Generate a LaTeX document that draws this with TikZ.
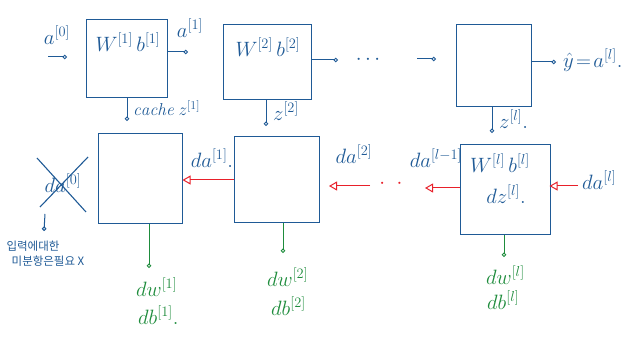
\documentclass[tikz,border=0pt]{standalone}
\usepackage{fontspec}
\newfontfamily\kr{Noto Sans CJK KR}
\usetikzlibrary{arrows.meta}
\definecolor{pen}{HTML}{1F5A96}
\definecolor{gpen}{HTML}{1E8C3C}
\definecolor{rpen}{HTML}{E8202A}
\begin{document}
\begin{tikzpicture}[x=1pt,y=-1pt,
  layer/.style={draw=pen,line width=1pt,minimum width=#1,inner sep=0pt},
  lolli/.style={draw=pen,line width=1pt,-{Circle[open,length=4.5pt,line width=1pt]}},
  glolli/.style={draw=gpen,line width=1pt,-{Circle[open,length=4.5pt,line width=1pt]}},
  back/.style={draw=rpen,line width=1pt,-{Triangle[open,length=8pt,width=9pt,line width=1pt]}},
  lab/.style={text=pen,font=\huge,inner sep=0pt},
  glab/.style={text=gpen,font=\huge,inner sep=0pt}]
\useasboundingbox (0,0) rectangle (641,342);
% ---------- forward row ----------
\node[layer=81pt,minimum height=78pt] (b1) at (127,59) {};
\node[layer=88pt,minimum height=75pt] (b2) at (267,62) {};
\node[layer=75pt,minimum height=82pt] (b3) at (494,66) {};
\node[lab] (w1) at (128,42) {$W^{[1]}\,b^{[1]}$};
\node[lab] (w2) at (268,47) {$W^{[2]}\,b^{[2]}$};
\node[lab] (a0) at (57,35) {$a^{[0]}$};
\coordinate (i0) at (48,57);
\coordinate (i1) at (67,57);
\draw[lolli] (i0) -- (i1);
\coordinate (o1) at (188,52);
\draw[lolli] (b1.east |- o1) -- (o1);
\node[lab] (a1) at (190,28) {$a^{[1]}$};
\coordinate (c1) at (127,121);
\draw[lolli] (b1.south -| c1) -- (c1);
\node[lab,font=\LARGE,anchor=west] (cz1) at (133,108) {$\mathit{cache}\;z^{[1]}$};
\coordinate (c2) at (266,126);
\draw[lolli] (b2.south -| c2) -- (c2);
\node[lab,anchor=west] (z2) at (273,111) {$z^{[2]}$};
\coordinate (o2) at (338,60);
\draw[lolli] (b2.east |- o2) -- (o2);
\node[lab] (dots1) at (368,60) {$\cdots$};
\coordinate (p0) at (417,59);
\coordinate (p1) at (436,59);
\draw[lolli] (p0) -- (p1);
\coordinate (o3) at (556,62);
\draw[lolli] (b3.east |- o3) -- (o3);
\node[lab,anchor=west] (yhat) at (563,60) {$\hat{y}\!=\!a^{[l]}.$};
\coordinate (c3) at (492,133);
\draw[lolli] (b3.south -| c3) -- (c3);
\node[lab,anchor=west] (z3) at (499,119) {$z^{[l]}.$};
% ---------- backward row ----------
\node[layer=84pt,minimum height=90pt] (b4) at (140,179) {};
\node[layer=85pt,minimum height=86pt] (b5) at (277,180) {};
\node[layer=90pt,minimum height=90pt] (b6) at (505,190) {};
\node[lab] (w6) at (500,163) {$W^{[l]}\,b^{[l]}$};
\node[lab] (dz6) at (506,194) {$dz^{[l]}.$};
% crossed da[0]
\node[lab] (da0) at (63,183) {$da^{[0]}$};
\coordinate (x1) at (37,158);
\coordinate (x2) at (86,212);
\coordinate (x3) at (40,207);
\coordinate (x4) at (88,157);
\draw[pen,line width=1.1pt] (x1) -- (x2);
\draw[pen,line width=1.1pt] (x3) -- (x4);
\coordinate (k0) at (45,214);
\coordinate (k1) at (44,231);
\draw[lolli] (k0) -- (k1);
\node[text=pen,font=\kr\fontsize{11.5}{13}\selectfont,inner sep=0pt] (kr1) at (33,246) {입력에대한};
\node[text=pen,font=\kr\fontsize{11.5}{13}\selectfont,inner sep=0pt] (kr2) at (48,261) {미분항은필요 X};
% red backward arrows
\draw[back] (b5.west |- 0,180) -- (b4.east |- 0,180);
\node[lab] (da1) at (212,158) {$da^{[1]}.$};
\node[lab] (da2) at (354,154) {$da^{[2]}$};
\coordinate (r0) at (370,186);
\coordinate (r1) at (329,186);
\draw[back] (r0) -- (r1);
\node[text=rpen,font=\huge,inner sep=0pt] (dots2) at (391,184) {$\cdot\;\;\cdot$};
\coordinate (r2) at (425,188);
\draw[back] (b6.west |- r2) -- (r2);
\node[lab] (dal1) at (436,158) {$da^{[l-1]}$};
\coordinate (r3) at (578,186);
\draw[back] (r3) -- ([xshift=-1pt]b6.east |- r3);
\node[lab,anchor=west] (dal) at (582,180) {$da^{[l]}$};
% green gradients
\coordinate (g1) at (149,268);
\draw[glolli] (b4.south -| g1) -- (g1);
\node[glab,anchor=west] (dw1) at (136,287) {$dw^{[1]}$};
\node[glab,anchor=west] (db1) at (138,315) {$db^{[1]}.$};
\coordinate (g2) at (283,253);
\draw[glolli] (b5.south -| g2) -- (g2);
\node[glab,anchor=west] (dw2) at (267,277) {$dw^{[2]}$};
\node[glab,anchor=west] (db2) at (271,306) {$db^{[2]}$};
\coordinate (g3) at (504,257);
\draw[glolli] (b6.south -| g3) -- (g3);
\node[glab,anchor=west] (dw3) at (486,275) {$dw^{[l]}$};
\node[glab,anchor=west] (db3) at (487,300) {$db^{[l]}$};
\end{tikzpicture}
\end{document}
